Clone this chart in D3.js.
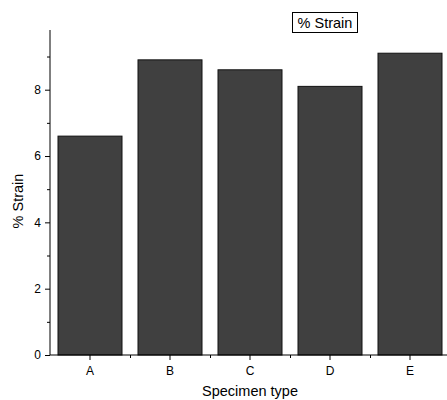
<!DOCTYPE html>
<html>
<head>
<meta charset="utf-8">
<script src="https://cdn.jsdelivr.net/npm/d3@7"></script>
<style>
  html, body { margin: 0; padding: 0; background: #fff; }
  svg { display: block; font-family: "Liberation Sans", Arial, sans-serif; }
</style>
</head>
<body>
<svg id="chart" width="447" height="400"></svg>
<script>
// Specimen strain values
const categories = ["A", "B", "C", "D", "E"];
const strain = [6.6, 8.9, 8.6, 8.1, 9.1];
const majorTicks = [0, 2, 4, 6, 8];
const minorTicks = [1, 3, 5, 7, 9];
const seriesName = "% Strain";

const svg = d3.select("#chart");
const plotLeft = 50, plotRight = 450, plotTop = 30, plotBottom = 355;

const x = d3.scaleBand().domain(categories).range([plotLeft, plotRight]).paddingInner(0.2).paddingOuter(0.1);
const y = d3.scaleLinear().domain([0, 9.8]).range([plotBottom, plotTop]);

// bars
svg.append("g").selectAll("rect")
  .data(categories.map((c, i) => ({ c, v: strain[i] })))
  .join("rect")
  .attr("x", d => x(d.c))
  .attr("y", d => y(d.v))
  .attr("width", x.bandwidth())
  .attr("height", d => y(0) - y(d.v))
  .attr("fill", "#404040")
  .attr("stroke", "#111")
  .attr("stroke-width", 1);

// y axis: labelled major ticks plus unlabelled minor ticks
const yAxis = svg.append("g").attr("transform", `translate(${plotLeft},0)`)
  .call(d3.axisLeft(y).tickValues(majorTicks).tickFormat(d3.format("d")).tickSize(5).tickPadding(4));
svg.append("g").attr("transform", `translate(${plotLeft},0)`)
  .call(d3.axisLeft(y).tickValues(minorTicks).tickFormat("").tickSize(3))
  .select(".domain").remove();
yAxis.select(".domain").attr("d", `M0,${plotTop}V${plotBottom}`);

// x axis: category ticks plus small ticks on the band boundaries
const step = x.step();
const bounds = categories.slice(0, -1).map(c => x(c) + x.bandwidth() / 2 + step / 2);
const xAxis = svg.append("g").attr("transform", `translate(0,${plotBottom})`)
  .call(d3.axisBottom(x).tickSize(5).tickPadding(6));
xAxis.select(".domain").attr("d", `M${plotLeft},0H${plotRight}`);
svg.append("g").attr("transform", `translate(0,${plotBottom})`)
  .call(d3.axisBottom(d3.scaleLinear().domain([plotLeft, plotRight]).range([plotLeft, plotRight])).tickValues(bounds).tickFormat("").tickSize(3))
  .select(".domain").remove();

svg.selectAll(".tick text").attr("font-size", 12).attr("font-family", "Liberation Sans, Arial, sans-serif").attr("fill", "#000");
svg.selectAll(".domain, .tick line").attr("stroke", "#000");

// axis titles
svg.append("text").attr("x", 250).attr("y", 396).attr("text-anchor", "middle")
  .attr("font-size", 14.5).text("Specimen type");
svg.append("text").attr("transform", `translate(23,201) rotate(-90)`)
  .attr("text-anchor", "middle").attr("font-size", 14.5).text("% Strain");

// legend
const lg = svg.append("g");
lg.append("rect").attr("x", 292.5).attr("y", 12.5).attr("width", 65).attr("height", 20)
  .attr("fill", "#fff").attr("stroke", "#000");
lg.append("text").attr("x", 325).attr("y", 27.5).attr("text-anchor", "middle")
  .attr("font-size", 14.5).text(seriesName);
</script>
</body>
</html>
